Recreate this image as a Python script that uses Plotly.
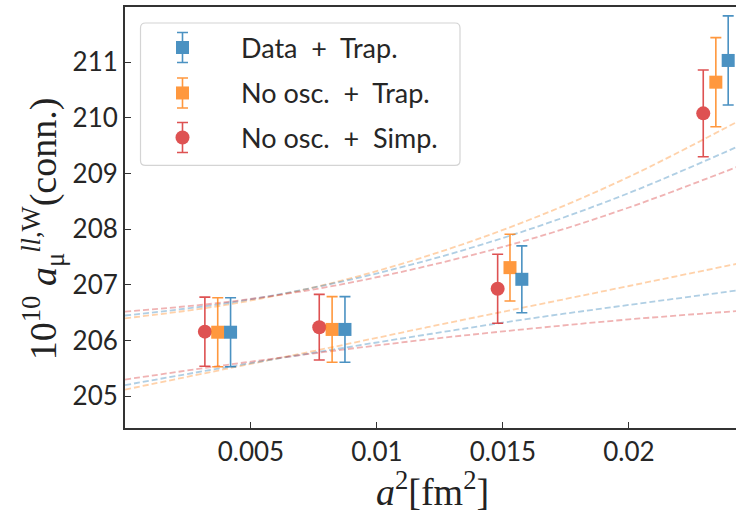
import plotly.graph_objects as go

# a^2 positions [fm^2] for each analysis (shifted slightly for readability)
x_simp = [0.00317, 0.00771, 0.01479, 0.02295]
x_trap = [0.00368, 0.00822, 0.01528, 0.02345]
x_data = [0.00419, 0.00873, 0.01575, 0.02394]

# 10^10 a_mu^{ll,W} (conn.) with uncertainties
data_trap = [206.15, 206.20, 207.10, 211.03]
data_trap_err = [0.62, 0.59, 0.60, 0.80]
noosc_trap = [206.15, 206.20, 207.31, 210.64]
noosc_trap_err = [0.62, 0.59, 0.60, 0.80]
noosc_simp = [206.16, 206.24, 206.93, 210.08]
noosc_simp_err = [0.62, 0.59, 0.62, 0.78]

# continuum-fit error bands: upper / lower edges
band_x = [0.0, 0.004, 0.008, 0.012, 0.016, 0.020, 0.0243]
data_hi = [206.45, 206.67, 207.00, 207.44, 207.99, 208.65, 209.48]
data_lo = [205.20, 205.52, 205.82, 206.11, 206.39, 206.64, 206.90]
trap_hi = [206.40, 206.64, 207.01, 207.52, 208.16, 208.94, 209.93]
trap_lo = [205.12, 205.49, 205.86, 206.24, 206.61, 206.98, 207.38]
simp_hi = [206.52, 206.69, 206.96, 207.34, 207.81, 208.39, 209.12]
simp_lo = [205.30, 205.56, 205.80, 206.02, 206.21, 206.38, 206.53]

y_ticks = [205, 206, 207, 208, 209, 210, 211]
x_ticks = [0.005, 0.01, 0.015, 0.02]
x_tick_text = ["0.005", "0.01", "0.015", "0.02"]

NB = "\u00a0"
labels = [f"Data{NB}{NB}+{NB}{NB}Trap.",
          f"No osc.{NB}{NB}+{NB}{NB}Trap.",
          f"No osc.{NB}{NB}+{NB}{NB}Simp."]

BLUE, ORANGE, RED = "#1f77b4", "#ff7f0e", "#d62728"
SANS = "Lato"
SERIF = "Liberation Serif"

fig = go.Figure()

# dashed error-band edges
for hi, lo, col in [(trap_hi, trap_lo, ORANGE), (data_hi, data_lo, BLUE), (simp_hi, simp_lo, RED)]:
    for edge in (hi, lo):
        fig.add_trace(go.Scatter(
            x=band_x, y=edge, mode="lines", line_shape="spline",
            line=dict(color=col, width=1.8, dash="6px,3px"),
            opacity=0.35, showlegend=False, hoverinfo="skip"))

# data points with error bars
series = [
    (x_simp, noosc_simp, noosc_simp_err, RED, "circle", 14),
    (x_trap, noosc_trap, noosc_trap_err, ORANGE, "square", 13),
    (x_data, data_trap, data_trap_err, BLUE, "square", 13),
]
for xs, ys, es, col, sym, sz in series:
    fig.add_trace(go.Scatter(
        x=xs, y=ys, mode="markers",
        marker=dict(color=col, symbol=sym, size=sz, line=dict(width=0)),
        error_y=dict(type="data", array=es, color=col, thickness=1.6, width=5.5),
        opacity=0.8, showlegend=False))

# legend keys drawn on a pixel-like overlay axis
leg_rows = [47, 92.5, 137]
leg_keys = [(BLUE, "square", 13), (ORANGE, "square", 13), (RED, "circle", 14)]
for (col, sym, sz), ry, lab in zip(leg_keys, leg_rows, labels):
    fig.add_trace(go.Scatter(
        x=[182.5], y=[ry], xaxis="x2", yaxis="y2", mode="markers",
        marker=dict(color=col, symbol=sym, size=sz, line=dict(width=0)),
        error_y=dict(type="constant", value=15, color=col, thickness=1.6, width=5.5),
        opacity=0.8, showlegend=False, hoverinfo="skip"))
    fig.add_annotation(x=239, y=ry, xref="x2", yref="y2", text=lab,
                       showarrow=False, xanchor="left", yanchor="middle",
                       font=dict(family=SANS, size=27, color="#262626"))

r = 5
x0, x1, y0, y1 = 140.5, 460, 22.5, 165
box = (f"M {x0+r},{y0} L {x1-r},{y0} Q {x1},{y0} {x1},{y0+r} "
       f"L {x1},{y1-r} Q {x1},{y1} {x1-r},{y1} L {x0+r},{y1} "
       f"Q {x0},{y1} {x0},{y1-r} L {x0},{y0+r} Q {x0},{y0} {x0+r},{y0} Z")
fig.add_shape(type="path", path=box, xref="x2", yref="y2",
              line=dict(color="#d4d4d4", width=1.2), fillcolor="rgba(0,0,0,0)")

# axis titles (paper coordinates)
fig.add_annotation(x=-0.133, y=0.474, xref="paper", yref="paper", textangle=-90,
                   xanchor="center", yanchor="middle",
                   text="10<sup>10</sup> <i>a</i><sub>μ</sub><sup><i>ll</i>,W</sup>(conn.)",
                   showarrow=False, font=dict(family=SERIF, size=38, color="#222222"))
fig.add_annotation(x=0.5025, y=-0.146, xref="paper", yref="paper",
                   xanchor="center", yanchor="middle",
                   text="<i>a</i><sup>2</sup>[fm<sup>2</sup>]",
                   showarrow=False, font=dict(family=SERIF, size=38, color="#222222"))

fig.update_layout(
    width=736, height=517,
    margin=dict(l=125, r=0, t=6.5, b=89.3),
    plot_bgcolor="white", paper_bgcolor="white",
    xaxis=dict(range=[0, 0.02425], tickvals=x_ticks, ticktext=x_tick_text,
               showgrid=False, zeroline=False, showline=True, mirror=True,
               linecolor="#333333", linewidth=2, ticks="inside", ticklen=6,
               tickwidth=1.3, tickcolor="#333333",
               tickfont=dict(family=SANS, size=26, color="#262626")),
    yaxis=dict(range=[204.43, 211.99], tickvals=y_ticks,
               showgrid=False, zeroline=False, showline=True, mirror=False,
               linecolor="#333333", linewidth=2, ticks="inside", ticklen=6,
               tickwidth=1.3, tickcolor="#333333",
               tickfont=dict(family=SANS, size=26, color="#262626")),
    xaxis2=dict(range=[125, 736], overlaying="x", visible=False),
    yaxis2=dict(range=[427.7, 6.5], overlaying="y", visible=False),
    showlegend=False,
)

fig.write_html("out.html")
